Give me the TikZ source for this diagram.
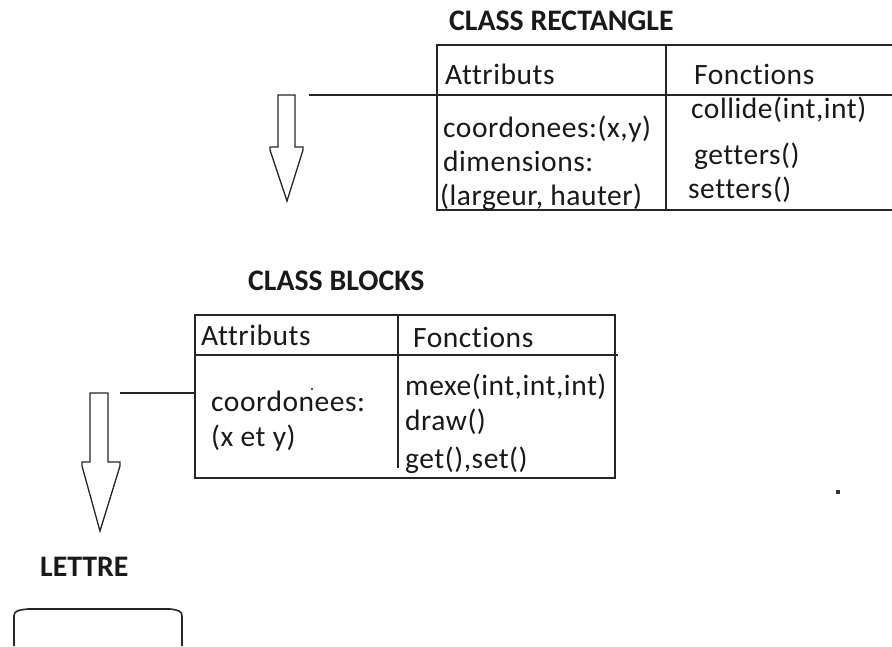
\documentclass[tikz,border=0pt]{standalone}
\usepackage{fontspec}
\setmainfont{Carlito}
\newfontfamily\cellfont[LetterSpace=1.8,Ligatures=CommonOff]{Carlito}
\newfontfamily\titlefont[Ligatures=CommonOff]{Carlito}
\begin{document}
\begin{tikzpicture}[x=1pt,y=-1pt,
  txt/.style={anchor=base west,inner sep=0pt,text=black!90,
    font=\cellfont\fontsize{29.5}{35}\selectfont},
  ttl/.style={anchor=base west,inner sep=0pt,text=black!90,
    font=\titlefont\fontsize{29.8}{35}\selectfont\bfseries},
  frame/.style={line width=1.6pt,black!85},
  hollow/.style={line width=1.3pt,black!85,line join=miter}]
\useasboundingbox (0,0) rectangle (892,646);

% ---- CLASS RECTANGLE ----
\node[ttl] (tRect) at (449,30) {CLASS RECTANGLE};
\coordinate (rTL) at (437,45);
\coordinate (rHL) at (437,95);
\coordinate (rBL) at (437,210);
\draw[frame] (892,45) -- (rTL) -- (rBL) -- (892,210);
\draw[frame] (rHL) -- (892,95);
\draw[frame] (666,45) -- (666,210);
\node[txt] (rA) at (445,84) {Attributs};
\node[txt] (rF) at (694,84) {Fonctions};
\node[txt] (rA1) at (443,137) {coordonees:(x,y)};
\node[txt] (rA2) at (443,171) {dimensions:};
\node[txt] (rA3) at (440,205) {(largeur, hauter)};
\node[txt] (rF1) at (691,118) {collide(int,int)};
\node[txt] (rF2) at (694,164) {getters()};
\node[txt] (rF3) at (688,198) {setters()};
\coordinate (rLink) at (309,95);
\draw[frame] (rLink) -- (rHL);
% hollow arrow pointing down
\draw[hollow] (278,95) -- (295,95) -- (295,147) -- (303,147) -- (303,150)
  -- (287,201) -- (270,150) -- (270,147) -- (278,147) -- cycle;

% ---- CLASS BLOCKS ----
\node[ttl] (tBlk) at (248,290) {CLASS BLOCKS};
\coordinate (bTL) at (195,315);
\coordinate (bHL) at (195,355);
\coordinate (bML) at (195,393);
\draw[frame] (bTL) rectangle (615,478);
\draw[frame] (bHL) -- (618,355);
\draw[frame] (398,315) -- (398,468);
\node[txt] (bA) at (201,345) {Attributs};
\node[txt] (bF) at (413,347) {Fonctions};
\node[txt] (bA1) at (211,411) {coordonees:};
\node[txt] (bA2) at (211,446) {(x et y)};
\node[txt] (bF1) at (405,395) {mexe(int,int,int)};
\node[txt] (bF2) at (405,430) {draw()};
\node[txt] (bF3) at (405,468) {get(),set()};
\fill[black!70] (311,388) rectangle (313,390);
\coordinate (bLink) at (120,393);
\draw[frame] (bLink) -- (bML);
\draw[hollow] (90,393) -- (108,393) -- (108,462) -- (120,462) -- (120,466)
  -- (100,531) -- (82,466) -- (82,462) -- (90,462) -- cycle;

% ---- LETTRE ----
\node[ttl] (tLet) at (40,576) {LETTRE};
\draw[frame] (14,646) -- (14,616) .. controls (14,611) and (18,610) .. (28,609)
  -- (170,609) .. controls (178,610) and (182,611) .. (182,616) -- (182,646);

% stray dot
\fill[black!80] (836,490) rectangle (840,494);
\end{tikzpicture}
\end{document}
